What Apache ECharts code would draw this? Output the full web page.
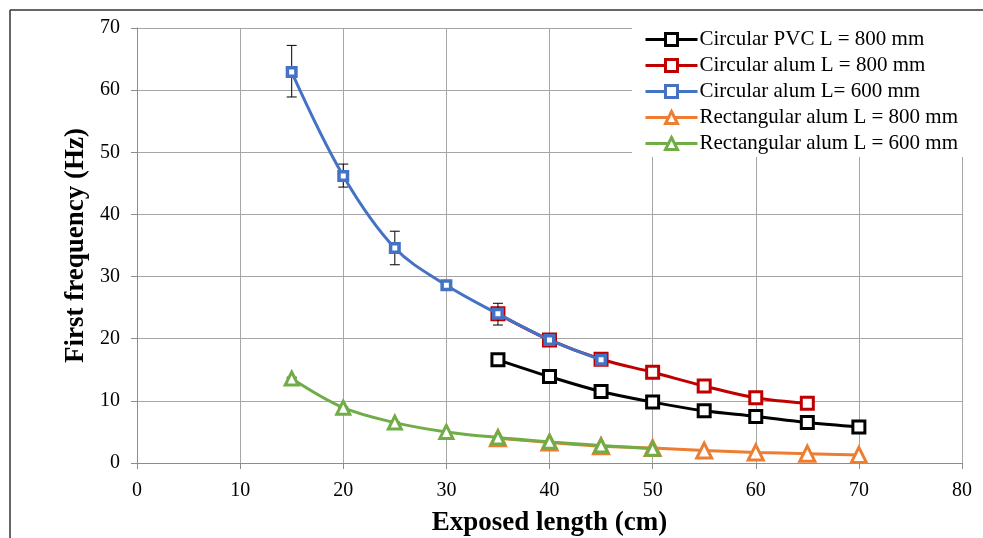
<!DOCTYPE html>
<html>
<head>
<meta charset="utf-8">
<script src="https://cdn.jsdelivr.net/npm/echarts@6/dist/echarts.min.js"></script>
<style>
html,body{margin:0;padding:0;background:#fff;}
#chart{width:983px;height:538px;}
</style>
</head>
<body>
<div id="chart"></div>
<script>
// ---- data ----
const seriesNames = [
  "Circular PVC L = 800 mm",
  "Circular alum L = 800 mm",
  "Circular alum L= 600 mm",
  "Rectangular alum L = 800 mm",
  "Rectangular alum L = 600 mm"
];
const pvc800X = [35, 40, 45, 50, 55, 60, 65, 70];
const pvc800Y = [16.6, 13.9, 11.5, 9.8, 8.4, 7.5, 6.5, 5.8];
const alum800X = [35, 40, 45, 50, 55, 60, 65];
const alum800Y = [24.0, 19.8, 16.7, 14.6, 12.4, 10.5, 9.6];
const alum600X = [15, 20, 25, 30, 35, 40, 45];
const alum600Y = [62.9, 46.2, 34.6, 28.6, 24.0, 19.8, 16.6];
const rect800X = [35, 40, 45, 50, 55, 60, 65, 70];
const rect800Y = [4.0, 3.3, 2.7, 2.4, 2.0, 1.7, 1.5, 1.3];
const rect600X = [15, 20, 25, 30, 35, 40, 45, 50];
const rect600Y = [13.6, 8.9, 6.5, 5.0, 4.1, 3.4, 2.8, 2.3];
// error bars: [x, low, high]
const errX = [15, 20, 25, 30, 35, 15, 20, 25];
const errLow = [58.9, 44.4, 31.9, 28.0, 22.2, 13.5, 8.8, 6.4];
const errHigh = [67.2, 48.1, 37.3, 29.3, 25.7, 13.8, 9.0, 6.6];
const xTicks = [0, 10, 20, 30, 40, 50, 60, 70, 80];
const yTicks = [0, 10, 20, 30, 40, 50, 60, 70];

const zip = (xs, ys) => xs.map((x, i) => [x, ys[i]]);
const FONT = "'Liberation Serif', 'Times New Roman', serif";

const chart = echarts.init(document.getElementById('chart'), null, {renderer: 'canvas'});

function lineSeries(name, xs, ys, color, symbol, size, bw, z) {
  return {
    name: name,
    type: 'line',
    data: zip(xs, ys),
    smooth: 0.35,
    symbol: symbol,
    symbolSize: size,
    showAllSymbol: true,
    z: z,
    lineStyle: {color: color, width: 3},
    itemStyle: {color: '#fff', borderColor: color, borderWidth: bw},
    emphasis: {disabled: true}
  };
}

const option = {
  animation: false,
  backgroundColor: '#fff',
  textStyle: {fontFamily: FONT},
  grid: {left: 137, right: 21, top: 28, bottom: 75, containLabel: false, outerBoundsMode: 'none'},
  xAxis: {
    type: 'value', min: xTicks[0], max: xTicks[xTicks.length - 1], interval: 10,
    name: 'Exposed length (cm)', nameLocation: 'middle', nameGap: 47,
    nameTextStyle: {fontFamily: FONT, fontSize: 27, fontWeight: 'bold', color: '#000'},
    axisLine: {show: true, lineStyle: {color: '#8c8c8c', width: 1}},
    axisTick: {show: true, length: 6, lineStyle: {color: '#8c8c8c'}},
    axisLabel: {fontFamily: FONT, fontSize: 20, color: '#000', margin: 18},
    splitLine: {show: true, lineStyle: {color: '#a6a6a6', width: 1}}
  },
  yAxis: {
    type: 'value', min: yTicks[0], max: yTicks[yTicks.length - 1], interval: 10,
    name: 'First frequency (Hz)', nameLocation: 'middle', nameGap: 40,
    nameTextStyle: {fontFamily: FONT, fontSize: 27, fontWeight: 'bold', color: '#000'},
    axisLine: {show: true, lineStyle: {color: '#8c8c8c', width: 1}},
    axisTick: {show: true, length: 6, lineStyle: {color: '#8c8c8c'}},
    axisLabel: {fontFamily: FONT, fontSize: 20, color: '#000', margin: 17},
    splitLine: {show: true, lineStyle: {color: '#a6a6a6', width: 1}}
  },
  legend: {
    orient: 'vertical',
    left: 632, top: 26,
    padding: [3, 8, 3, 12],
    backgroundColor: '#fff',
    itemWidth: 52, itemHeight: 15, itemGap: 5,
    data: seriesNames,
    itemStyle: {borderWidth: 3},
    lineStyle: {width: 3},
    textStyle: {fontFamily: FONT, fontSize: 21, color: '#000', padding: [0, 0, 0, -3]},
    z: 20
  },
  graphic: [
    {type: 'line', shape: {x1: 10, y1: 10, x2: 983, y2: 10}, style: {stroke: '#333', lineWidth: 1.5}, z: 100},
    {type: 'line', shape: {x1: 10, y1: 10, x2: 10, y2: 538}, style: {stroke: '#333', lineWidth: 1.5}, z: 100}
  ],
  series: [
    lineSeries(seriesNames[0], pvc800X, pvc800Y, '#000000', 'rect', 12, 3, 2),
    lineSeries(seriesNames[1], alum800X, alum800Y, '#C00000', 'rect', 12, 3, 3),
    lineSeries(seriesNames[2], alum600X, alum600Y, '#4472C4', 'rect', 8.5, 3.5, 5),
    lineSeries(seriesNames[3], rect800X, rect800Y, '#ED7D31', 'triangle', 15, 3, 3),
    lineSeries(seriesNames[4], rect600X, rect600Y, '#70AD47', 'triangle', 13, 3, 5),
    {
      type: 'custom',
      name: 'errors',
      z: 4,
      data: errX.map((x, i) => [x, errLow[i], errHigh[i]]),
      renderItem: function (params, api) {
        const x = api.value(0);
        const lo = api.coord([x, api.value(1)]);
        const hi = api.coord([x, api.value(2)]);
        const w = 5;
        return {
          type: 'group',
          children: [
            {type: 'line', shape: {x1: lo[0], y1: lo[1], x2: hi[0], y2: hi[1]}, style: {stroke: '#000', lineWidth: 1}},
            {type: 'line', shape: {x1: lo[0] - w, y1: lo[1], x2: lo[0] + w, y2: lo[1]}, style: {stroke: '#000', lineWidth: 1}},
            {type: 'line', shape: {x1: hi[0] - w, y1: hi[1], x2: hi[0] + w, y2: hi[1]}, style: {stroke: '#000', lineWidth: 1}}
          ]
        };
      }
    }
  ]
};
chart.setOption(option);
</script>
</body>
</html>
